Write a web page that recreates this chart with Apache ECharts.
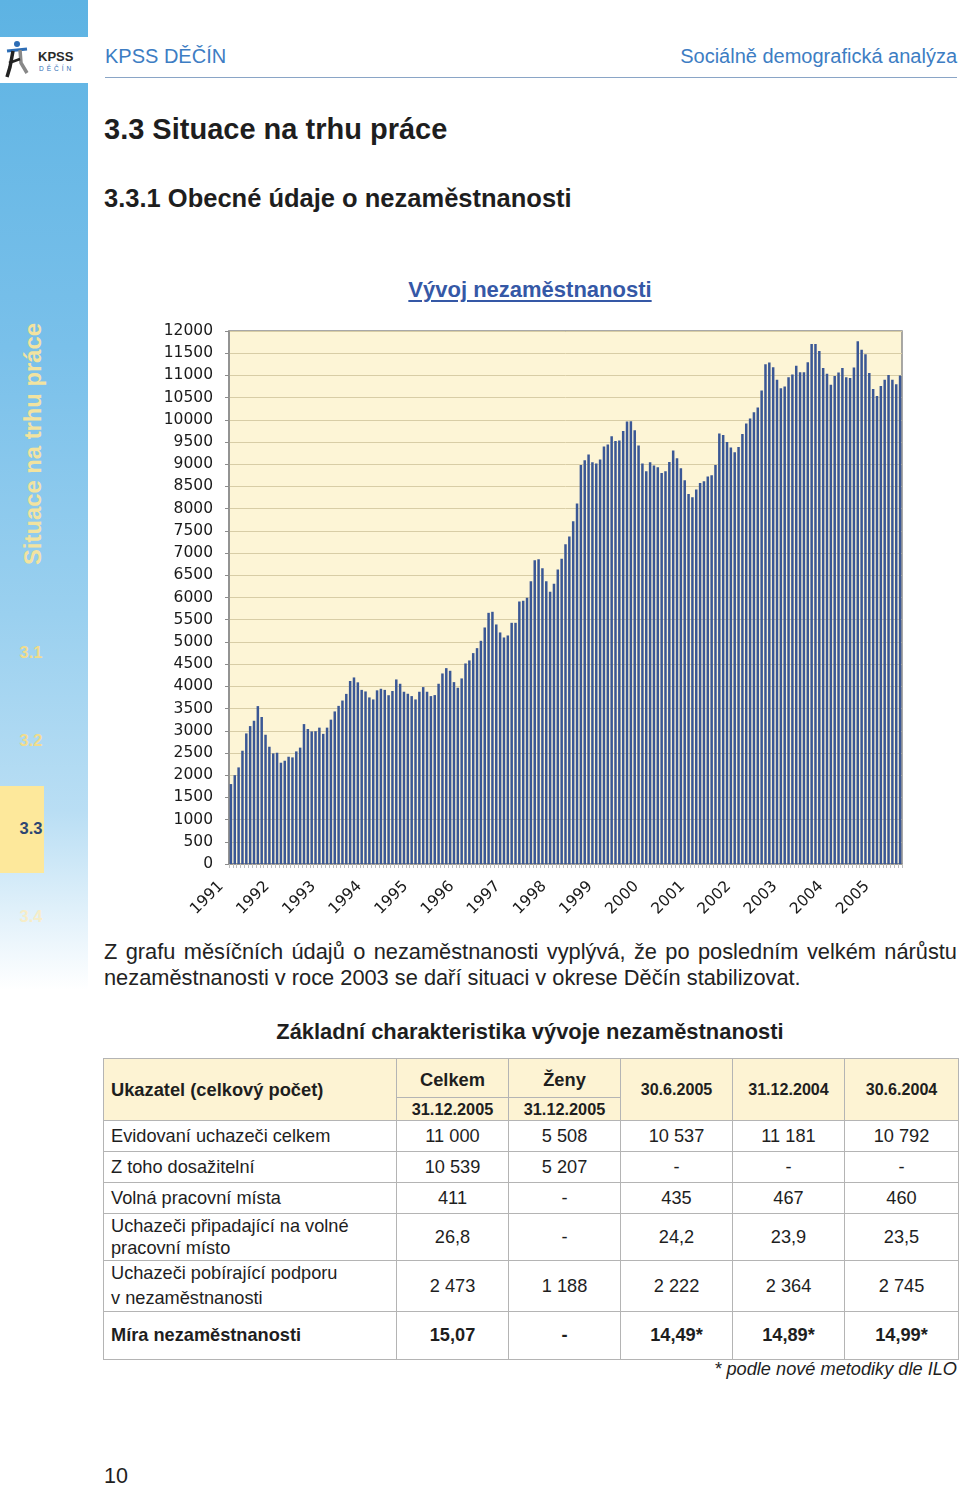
<!DOCTYPE html>
<html lang="cs">
<head>
<meta charset="utf-8">
<script src="https://cdn.jsdelivr.net/npm/echarts@6/dist/echarts.min.js"></script>
<style>
  html, body { margin:0; padding:0; }
  body { width:960px; height:1485px; position:relative; overflow:hidden; background:#fff;
         font-family:"Liberation Sans", Arial, sans-serif; color:#1e1e1e; }
  .abs { position:absolute; }
  #sidebar { left:0; top:0; width:88px; height:990px;
    background:linear-gradient(to bottom, #5db3e3 0%, #79c0ea 35%, #9ad0ef 62%, #b9def4 82%, #ffffff 100%); }
  #logobox { left:0; top:37px; width:88px; height:46px; background:#fff; }
  .hdr { top:45px; font-size:20px; color:#3d7dc3; white-space:nowrap; }
  #hline { left:105px; top:77px; width:852px; height:0; border-top:1.5px solid #8aa5c6; }
  .side { font-weight:bold; font-size:16.5px; color:#f1dc8c; width:44px; text-align:center; }
  #chart { left:100px; top:310px; width:860px; height:620px; }
  table { border-collapse:collapse; table-layout:fixed; }
  td { border:1px solid #b4b4b4; padding:0; font-size:18.2px; text-align:center; vertical-align:middle; color:#1e1e1e; }
  td.l { text-align:left; padding-left:7px; }
  tr.h td { background:#fdf3d3; font-weight:bold; }
</style>
</head>
<body>
<div id="sidebar" class="abs"></div>
<div id="logobox" class="abs">
  <svg width="88" height="46" viewBox="0 0 88 46">
    <circle cx="17" cy="7" r="3" fill="#2d6db5"/>
    <path d="M7 14 L27 12" stroke="#2d6db5" stroke-width="3" fill="none"/>
    <path d="M13 14 L10 30 L7 40" stroke="#222" stroke-width="3.5" fill="none"/>
    <path d="M20 13 L21 26 L27 36" stroke="#888" stroke-width="3.5" fill="none"/>
    <path d="M9 26 L20 22" stroke="#222" stroke-width="2.5" fill="none"/>
    <text x="38" y="24" font-family="Liberation Sans, Arial" font-weight="bold" font-size="13" fill="#2a2a2a">KPSS</text>
    <text x="39" y="34" font-family="Liberation Sans, Arial" font-size="6.5" letter-spacing="3" fill="#2d6db5">DĚČÍN</text>
  </svg>
</div>
<div class="abs" style="left:33px; top:445px; width:0; height:0;">
  <div style="position:absolute; left:-150px; top:-15px; width:300px; text-align:center; transform:rotate(-90deg); font-weight:bold; font-size:23.8px; color:#f2e3a0; white-space:nowrap;">Situace na trhu práce</div>
</div>
<div class="abs side" style="left:9px; top:643px;">3.1</div>
<div class="abs side" style="left:9px; top:731px;">3.2</div>
<div class="abs" style="left:0; top:786px; width:44px; height:87px; background:#fde89b;"></div>
<div class="abs side" style="left:9px; top:819px; color:#2d4672;">3.3</div>
<div class="abs side" style="left:9px; top:907px; color:#f6edc8;">3.4</div>

<div class="abs hdr" style="left:105px;">KPSS DĚČÍN</div>
<div class="abs hdr" style="right:3px;">Sociálně demografická analýza</div>
<div id="hline" class="abs"></div>

<div class="abs" style="left:104px; top:113px; font-size:29px; font-weight:bold; white-space:nowrap;">3.3 Situace na trhu práce</div>
<div class="abs" style="left:104px; top:184px; font-size:25.5px; font-weight:bold; white-space:nowrap;">3.3.1 Obecné údaje o nezaměstnanosti</div>
<div class="abs" style="left:330px; width:400px; top:277px; text-align:center; font-size:22px; font-weight:bold; color:#3558a6; text-decoration:underline; text-underline-offset:3px;">Vývoj nezaměstnanosti</div>

<div id="chart" class="abs"></div>

<div class="abs" style="left:104px; top:939px; width:853px; font-size:21.8px; line-height:26px; color:#222;">
  <div style="text-align:justify; text-align-last:justify;">Z grafu měsíčních údajů o nezaměstnanosti vyplývá, že po posledním velkém nárůstu</div>
  <div style="white-space:nowrap;">nezaměstnanosti v roce 2003 se daří situaci v okrese Děčín stabilizovat.</div>
</div>

<div class="abs" style="left:180px; width:700px; top:1019px; text-align:center; font-size:21.9px; font-weight:bold;">Základní charakteristika vývoje nezaměstnanosti</div>

<table class="abs" style="left:103px; top:1058px; width:855px;">
  <colgroup><col style="width:293px"><col style="width:112px"><col style="width:112px"><col style="width:112px"><col style="width:112px"><col style="width:114px"></colgroup>
  <tr class="h" style="height:39px;">
    <td class="l" rowspan="2" style="font-size:18.3px;">Ukazatel (celkový počet)</td>
    <td style="font-size:18.3px; vertical-align:bottom; padding-bottom:6px;">Celkem</td>
    <td style="font-size:18.3px; vertical-align:bottom; padding-bottom:6px;">Ženy</td>
    <td rowspan="2" style="font-size:16.1px;">30.6.2005</td>
    <td rowspan="2" style="font-size:16.1px;">31.12.2004</td>
    <td rowspan="2" style="font-size:16.1px;">30.6.2004</td>
  </tr>
  <tr class="h" style="height:23px;">
    <td style="font-size:16.3px;">31.12.2005</td>
    <td style="font-size:16.3px;">31.12.2005</td>
  </tr>
  <tr style="height:31px;"><td class="l">Evidovaní uchazeči celkem</td><td>11 000</td><td>5 508</td><td>10 537</td><td>11 181</td><td>10 792</td></tr>
  <tr style="height:31px;"><td class="l">Z toho dosažitelní</td><td>10 539</td><td>5 207</td><td>-</td><td>-</td><td>-</td></tr>
  <tr style="height:31px;"><td class="l">Volná pracovní místa</td><td>411</td><td>-</td><td>435</td><td>467</td><td>460</td></tr>
  <tr style="height:47px;"><td class="l" style="line-height:22px;">Uchazeči připadající na volné<br>pracovní místo</td><td>26,8</td><td>-</td><td>24,2</td><td>23,9</td><td>23,5</td></tr>
  <tr style="height:49px;"><td class="l" style="line-height:25px;">Uchazeči pobírající podporu<br>v nezaměstnanosti</td><td>2 473</td><td>1 188</td><td>2 222</td><td>2 364</td><td>2 745</td></tr>
  <tr style="height:48px; font-weight:bold;"><td class="l">Míra nezaměstnanosti</td><td>15,07</td><td>-</td><td>14,49*</td><td>14,89*</td><td>14,99*</td></tr>
</table>

<div class="abs" style="right:3px; top:1359px; font-size:18.2px; font-style:italic; white-space:nowrap;">* podle nové metodiky dle ILO</div>
<div class="abs" style="left:104px; top:1464px; font-size:21.5px;">10</div>

<script>
// Monthly registered unemployed, okres Děčín, June 1991 – December 2005
const startYear = 1991;
const startMonth = 6;
const yearLabels = ['1991','1992','1993','1994','1995','1996','1997','1998','1999','2000','2001','2002','2003','2004','2005'];
const unemployed = [
  1800, 2000, 2175, 2550, 2940, 3105, 3225,
  3555, 3310, 2910, 2640, 2490, 2505, 2280, 2325, 2415, 2400, 2535, 2620,
  3150, 3040, 2985, 2990, 3070, 2930, 3070, 3250, 3435, 3560, 3680, 3830,
  4120, 4200, 4090, 3920, 3885, 3750, 3705, 3910, 3945, 3920, 3800, 3895,
  4155, 4058, 3878, 3833, 3780, 3705, 3878, 3983, 3878, 3780, 3803, 4058,
  4290, 4410, 4350, 4095, 3968, 4178, 4515, 4583, 4748, 4860, 5025, 5325,
  5655, 5678, 5393, 5213, 5100, 5145, 5430, 5430, 5910, 5925, 5993, 6368,
  6840, 6863, 6660, 6368, 6128, 6310, 6630, 6870, 7200, 7373, 7718, 8115,
  8985, 9090, 9218, 9045, 9015, 9105, 9398, 9443, 9630, 9525, 9533, 9750,
  9960, 9968, 9765, 9420, 9015, 8843, 9045, 8970, 8933, 8805, 8843, 9053,
  9308, 9135, 8910, 8640, 8333, 8258, 8430, 8580, 8618, 8723, 8753, 8985,
  9690, 9660, 9500, 9375, 9270, 9390, 9683, 9915, 10028, 10170, 10275, 10658,
  11250, 11288, 11183, 10905, 10710, 10748, 10958, 11018, 11220, 11070, 11070, 11295,
  11708, 11708, 11550, 11168, 11040, 10792, 10988, 11063, 11168, 10958, 10943, 11181,
  11768, 11580, 11475, 11055, 10695, 10537, 10763, 10905, 11010, 10905, 10800, 11000
];
const months = unemployed.map(function (_, i) {
  const m = startMonth - 1 + i;
  return (startYear + Math.floor(m / 12)) + '-' + String(m % 12 + 1).padStart(2, '0');
});

const chart = echarts.init(document.getElementById('chart'), null, { renderer: 'canvas' });
chart.setOption({
  animation: false,
  grid: { left: 129, top: 21, width: 673, height: 533, show: true,
          backgroundColor: '#fdf5d6', borderColor: '#8c8c8c', borderWidth: 1.5 },
  xAxis: {
    type: 'category', data: months, boundaryGap: true,
    axisLine: { show: true, lineStyle: { color: '#8c8c8c', width: 1.5 } },
    axisTick: { show: true, interval: 0, length: 4, lineStyle: { color: '#bdbdbd' } },
    axisLabel: {
      interval: 11, rotate: 45, margin: 10, padding: [0, 14, 0, 0],
      fontFamily: 'DejaVu Sans', fontSize: 15.5, color: '#1a1a1a',
      formatter: function (v, i) { return yearLabels[Math.round(i / 12)]; }
    }
  },
  yAxis: {
    type: 'value', min: 0, max: 12000, interval: 500,
    axisLine: { show: true, lineStyle: { color: '#8c8c8c', width: 1.5 } },
    axisTick: { show: true, length: 4, lineStyle: { color: '#8c8c8c' } },
    axisLabel: { fontFamily: 'DejaVu Sans', fontSize: 15.5, color: '#1a1a1a', margin: 16,
                 formatter: function (v) { return String(v); } },
    splitLine: { show: true, lineStyle: { color: '#d8cda6', width: 1 } }
  },
  series: [{
    type: 'bar', data: unemployed, barCategoryGap: '35%',
    itemStyle: { color: '#3a5795' }
  }]
});
</script>
</body>
</html>
